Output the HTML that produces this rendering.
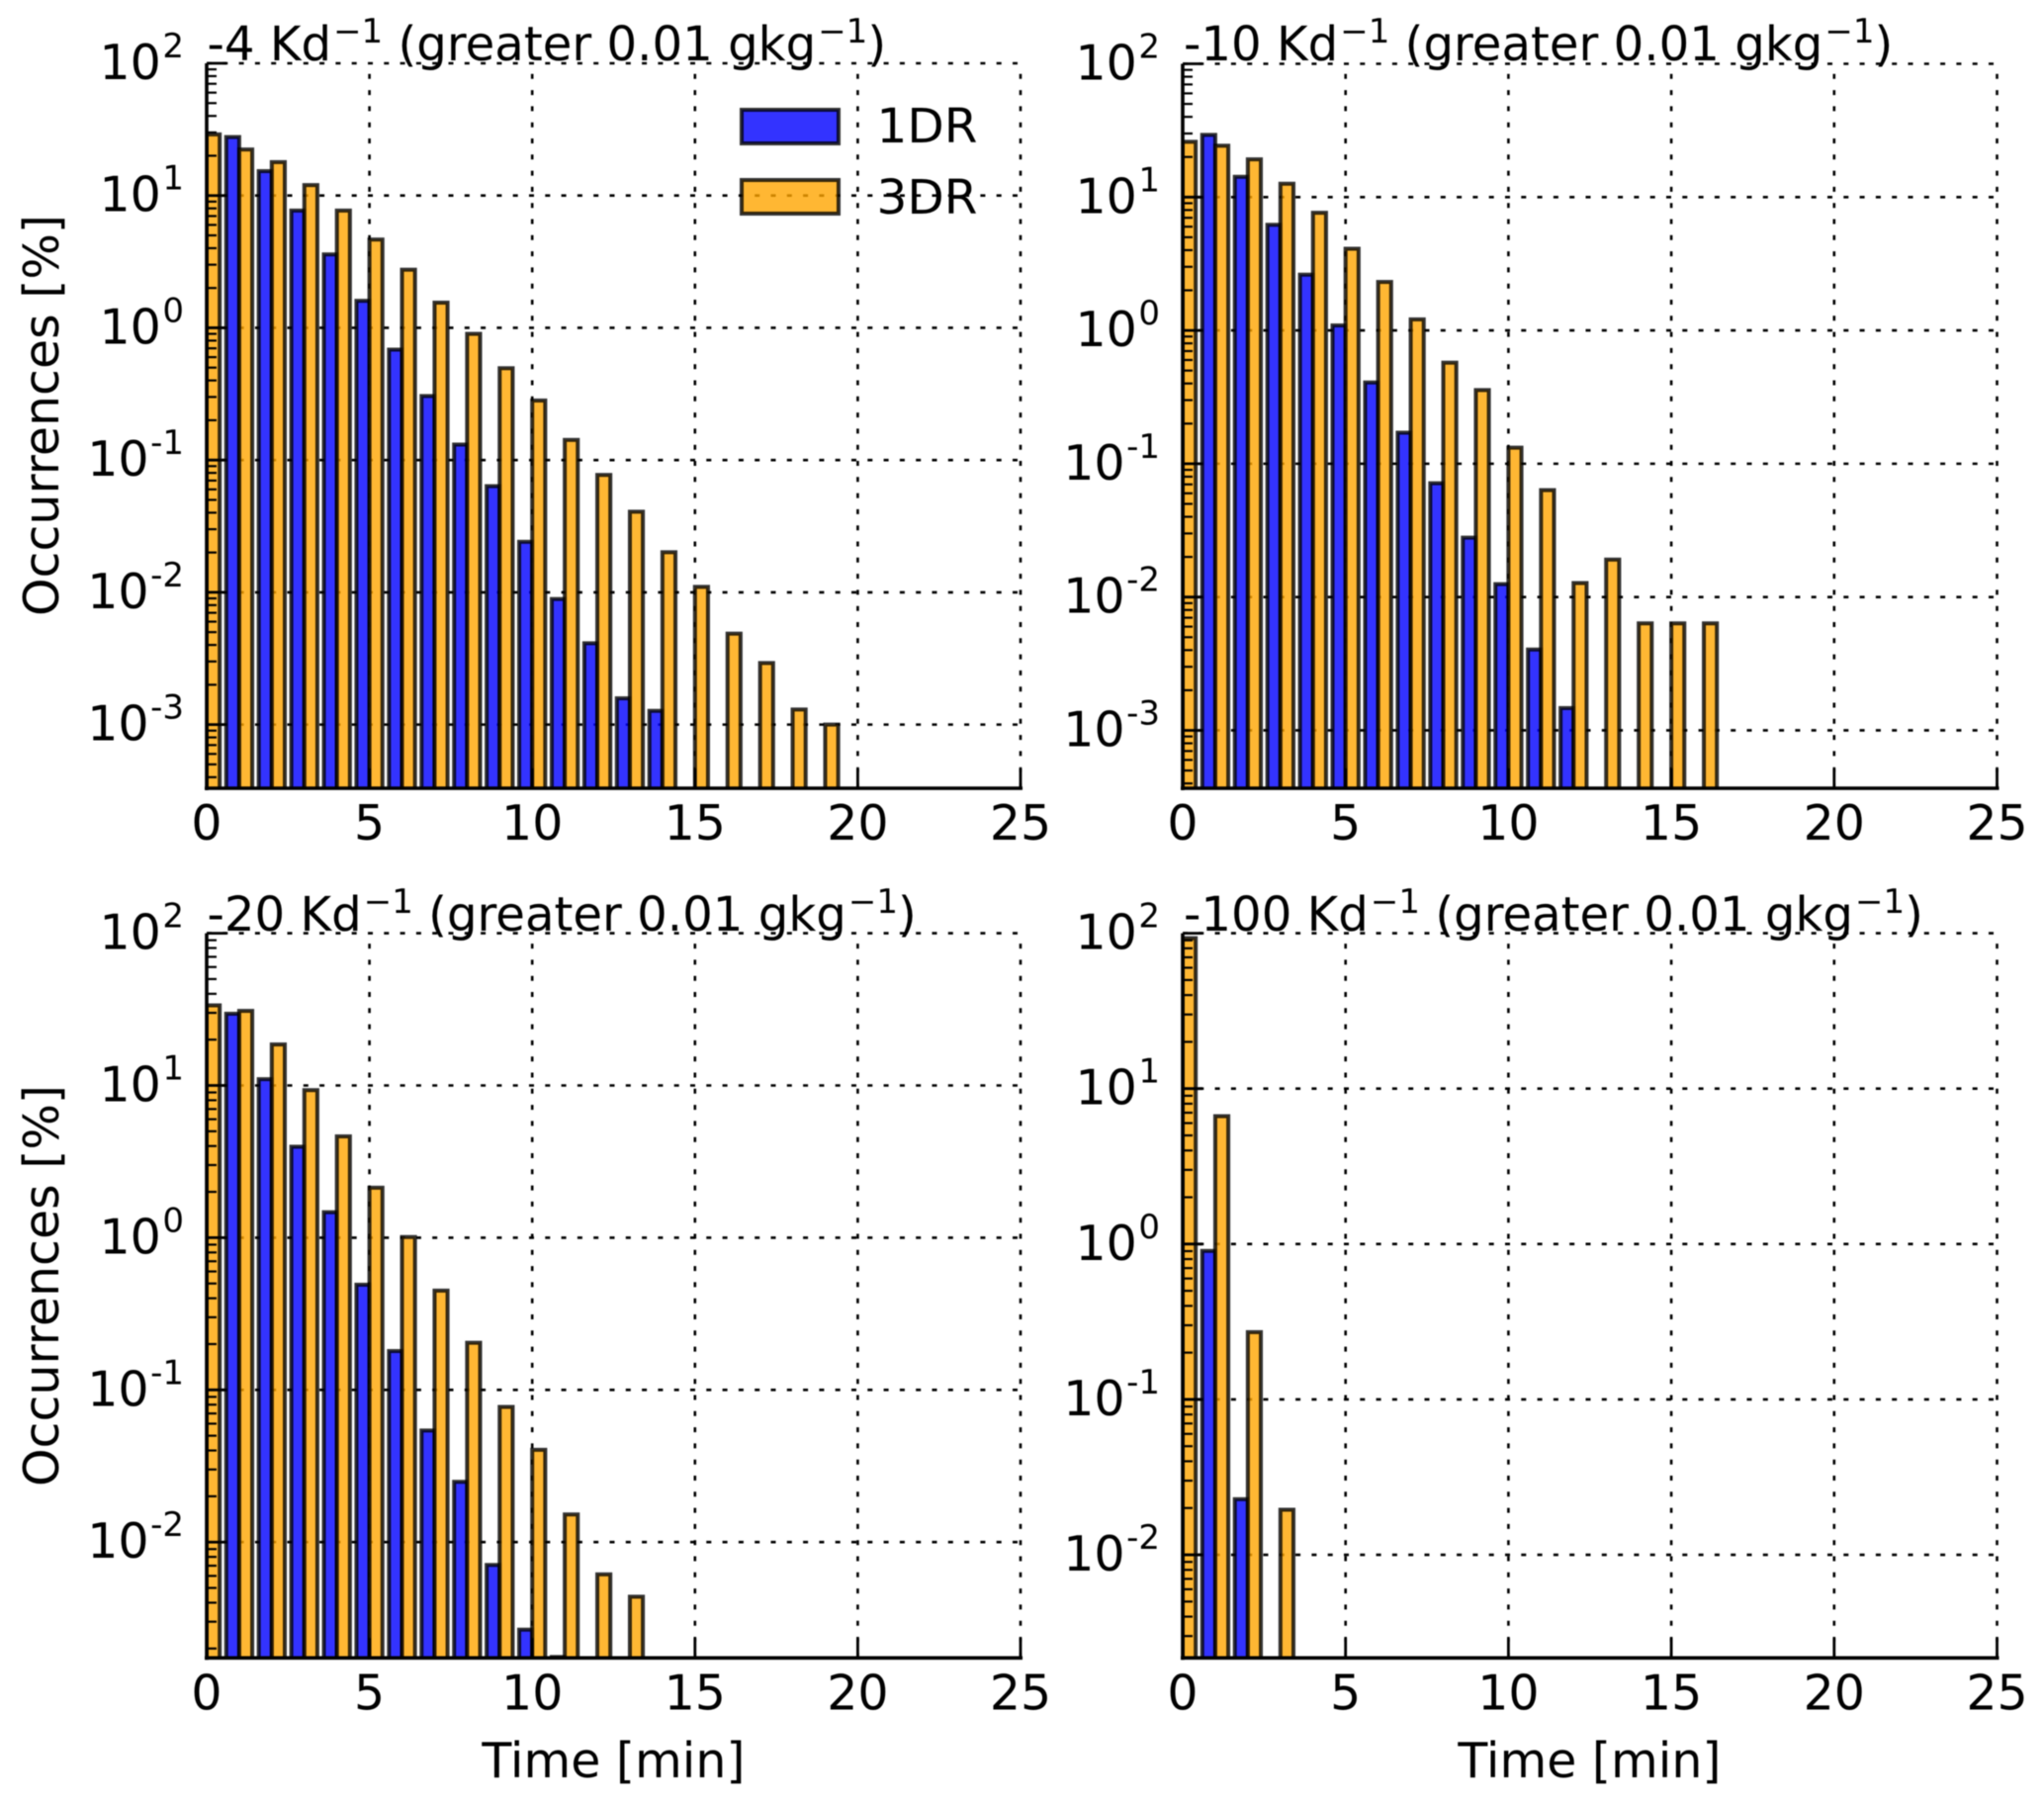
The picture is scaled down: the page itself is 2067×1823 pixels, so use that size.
<!DOCTYPE html>
<html lang="en">
<head>
<meta charset="utf-8">
<title>Occurrences by time</title>
<style>
html,body{margin:0;padding:0;background:#fff;}
svg{display:block;filter:blur(0.6px);}
text{font-family:"DejaVu Sans","Liberation Sans",sans-serif;fill:#000;}
</style>
</head>
<body>
<svg id="figure" xmlns="http://www.w3.org/2000/svg" width="2067" height="1823" viewBox="0 0 2067 1823">
  <rect x="0" y="0" width="2067" height="1823" fill="#fff"/>
  <defs>
    <clipPath id="clip-a"><rect x="209" y="64" width="823" height="733"/></clipPath>
    <clipPath id="clip-b"><rect x="1196" y="64.5" width="823.5" height="732.5"/></clipPath>
    <clipPath id="clip-c"><rect x="209" y="943.6" width="823" height="732.7"/></clipPath>
    <clipPath id="clip-d"><rect x="1196" y="943.6" width="823.5" height="732.7"/></clipPath>
  </defs>

  <g id="panel-a"></g>
  <g id="panel-b"></g>
  <g id="panel-c"></g>
  <g id="panel-d"></g>

  <text x="209.5" y="61" font-size="48.2">-4 Kd<tspan font-size="34" dy="-18" dx="2">−1</tspan><tspan dy="18"> (greater 0.01 gkg</tspan><tspan font-size="34" dy="-18" dx="2">−1</tspan><tspan dy="18">)</tspan></text>
  <text x="1197" y="61" font-size="48.2">-10 Kd<tspan font-size="34" dy="-18" dx="2">−1</tspan><tspan dy="18"> (greater 0.01 gkg</tspan><tspan font-size="34" dy="-18" dx="2">−1</tspan><tspan dy="18">)</tspan></text>
  <text x="209.5" y="941" font-size="48.2">-20 Kd<tspan font-size="34" dy="-18" dx="2">−1</tspan><tspan dy="18"> (greater 0.01 gkg</tspan><tspan font-size="34" dy="-18" dx="2">−1</tspan><tspan dy="18">)</tspan></text>
  <text x="1197" y="941" font-size="48.2">-100 Kd<tspan font-size="34" dy="-18" dx="2">−1</tspan><tspan dy="18"> (greater 0.01 gkg</tspan><tspan font-size="34" dy="-18" dx="2">−1</tspan><tspan dy="18">)</tspan></text>

  <text transform="translate(59,420) rotate(-90)" text-anchor="middle" font-size="49">Occurrences [%]</text>
  <text transform="translate(59,1300) rotate(-90)" text-anchor="middle" font-size="49">Occurrences [%]</text>
  <text x="620.5" y="1797" text-anchor="middle" font-size="49">Time [min]</text>
  <text x="1607.5" y="1797" text-anchor="middle" font-size="49">Time [min]</text>

  <g>
    <g>
      <rect x="750" y="111" width="98" height="34" fill="#0000ff" fill-opacity="0.8" stroke="#000" stroke-opacity="0.8" stroke-width="4"/>
      <text x="886.5" y="144" font-size="48.5">1DR</text>
    </g>
    <g>
      <rect x="750" y="182" width="98" height="34" fill="#ffa500" fill-opacity="0.8" stroke="#000" stroke-opacity="0.8" stroke-width="4"/>
      <text x="886.5" y="216" font-size="48.5">3DR</text>
    </g>
  </g>
</svg>

<script>
// ---- chart data (percent occurrences) ----
const xTickValues = [0, 5, 10, 15, 20, 25];
const xTickLabels = ['0', '5', '10', '15', '20', '25'];

const yExponentsDeep = ['2', '1', '0', '-1', '-2', '-3'];
const yExponentsShallow = ['2', '1', '0', '-1', '-2'];

// series index = time bin; null = no visible bar
const minus4_1DR = [null, 27.7, 15.3, 7.7, 3.59, 1.60, 0.684, 0.305, 0.131, 0.0635, 0.0241, 0.0089, 0.00412, 0.00158, 0.00127];
const minus4_3DR = [29.0, 22.3, 17.9, 12.0, 7.7, 4.65, 2.75, 1.55, 0.90, 0.495, 0.282, 0.142, 0.0772, 0.0407, 0.0201, 0.0110, 0.00487, 0.00292, 0.00130, 0.0010];

const minus10_1DR = [null, 29.3, 14.2, 6.2, 2.62, 1.09, 0.407, 0.171, 0.0714, 0.0279, 0.0125, 0.00404, 0.00147];
const minus10_3DR = [26.0, 24.3, 19.2, 12.6, 7.63, 4.10, 2.31, 1.21, 0.573, 0.357, 0.132, 0.0634, 0.01274, 0.0191, 0.00635, 0.00635, 0.00635];

const minus20_1DR = [null, 29.6, 11.0, 3.96, 1.47, 0.491, 0.180, 0.0541, 0.0249, 0.00708, 0.00266, 0.00176];
const minus20_3DR = [33.6, 30.9, 18.6, 9.32, 4.63, 2.13, 1.01, 0.449, 0.204, 0.0773, 0.0404, 0.0152, 0.00614, 0.00438];

const minus100_1DR = [null, 0.903, 0.0228];
const minus100_3DR = [93, 6.65, 0.271, 0.0195];

const barWidth = 0.4;

// ---- layout ----
const panels = [
  {id:'panel-a', clip:'clip-a', left:209,  right:1032,   top:64,    bottom:797,    yMin:3.3e-4,  exps:yExponentsDeep,    s1:minus4_1DR,   s3:minus4_3DR},
  {id:'panel-b', clip:'clip-b', left:1196, right:2019.5, top:64.5,  bottom:797,    yMin:3.68e-4, exps:yExponentsDeep,    s1:minus10_1DR,  s3:minus10_3DR},
  {id:'panel-c', clip:'clip-c', left:209,  right:1032,   top:943.6, bottom:1676.3, yMin:1.735e-3,exps:yExponentsShallow, s1:minus20_1DR,  s3:minus20_3DR},
  {id:'panel-d', clip:'clip-d', left:1196, right:2019.5, top:943.6, bottom:1676.3, yMin:2.17e-3, exps:yExponentsShallow, s1:minus100_1DR, s3:minus100_3DR}
];

const SVGNS = 'http://www.w3.org/2000/svg';
function make(tag, attrs, parent) {
  const el = document.createElementNS(SVGNS, tag);
  for (const k in attrs) el.setAttribute(k, attrs[k]);
  parent.appendChild(el);
  return el;
}

function drawPanel(p) {
  const root = document.getElementById(p.id);
  const xScale = v => p.left + (v / 25) * (p.right - p.left);
  const logMin = Math.log10(p.yMin);
  const yScale = v => p.top + (2 - Math.log10(v)) / (2 - logMin) * (p.bottom - p.top);

  // grid
  const grid = make('g', {fill:'none', stroke:'#000', 'stroke-width':2.6, 'stroke-dasharray':'5 11.3'}, root);
  
  
  xTickValues.forEach(function (t) {
    if (t === 0) return;
    const l = make('line', {x1:xScale(t), x2:xScale(t), y1:p.bottom, y2:p.top}, grid);
    
    
  });
  p.exps.forEach(function (e) {
    const y = yScale(Math.pow(10, Number(e)));
    const l = make('line', {x1:p.left, x2:p.right, y1:y, y2:y}, grid);
    
    
  });

  // bars
  const bars = make('g', {'clip-path':'url(#' + p.clip + ')'}, root);
  
  
  p.s1.forEach(function (v, i) {
    if (v === null) return;
    const y = yScale(v);
    const r = make('rect', {x:xScale(i - barWidth), y:y, width:xScale(barWidth) - xScale(0), height:p.bottom + 4 - y,
      fill:'#0000ff', 'fill-opacity':0.8, stroke:'#000', 'stroke-opacity':0.8, 'stroke-width':4}, bars);
    
    
  });
  p.s3.forEach(function (v, i) {
    if (v === null) return;
    const y = yScale(v);
    const r = make('rect', {x:xScale(i), y:y, width:xScale(barWidth) - xScale(0), height:p.bottom + 4 - y,
      fill:'#ffa500', 'fill-opacity':0.8, stroke:'#000', 'stroke-opacity':0.8, 'stroke-width':4}, bars);
    
    
  });

  // y ticks
  const yAxis = make('g', {stroke:'#000'}, root);
  
  
  const lowest = Number(p.exps[p.exps.length - 1]) - 1;
  for (let d = lowest; d < 2; d++) {
    for (let m = 2; m <= 9; m++) {
      const v = m * Math.pow(10, d);
      if (v < p.yMin) continue;
      const y = yScale(v);
      const t = make('line', {x1:p.left, x2:p.left + 10, y1:y, y2:y, 'stroke-width':2.2}, yAxis);
      
      
    }
  }
  p.exps.forEach(function (e) {
    const y = yScale(Math.pow(10, Number(e)));
    const t = make('line', {x1:p.left, x2:p.left + 20, y1:y, y2:y, 'stroke-width':2.8}, yAxis);
    
    
    const label = make('text', {x:p.left - 23, y:y + 16, 'text-anchor':'end', 'font-size':49, stroke:'none'}, root);
    
    
    label.appendChild(document.createTextNode('10'));
    const sup = make('tspan', {'font-size':34, dy:-22, dx:1.5}, label);
    sup.textContent = e;
  });

  // x ticks
  const xAxis = make('g', {stroke:'#000'}, root);
  
  
  xTickValues.forEach(function (t, i) {
    const x = xScale(t);
    const m = make('line', {x1:x, x2:x, y1:p.bottom, y2:p.bottom - 20, 'stroke-width':2.8}, xAxis);
    
    
    const label = make('text', {x:x, y:p.bottom + 52, 'text-anchor':'middle', 'font-size':49, stroke:'none'}, root);
    
    
    label.textContent = xTickLabels[i];
  });

  // spines
  const left = make('line', {x1:p.left, x2:p.left, y1:p.top, y2:p.bottom + 2, stroke:'#000', 'stroke-width':3.6}, root);
  
  
  const bottom = make('line', {x1:p.left - 2, x2:p.right + 2, y1:p.bottom, y2:p.bottom, stroke:'#000', 'stroke-width':3.6}, root);
  
  
}

panels.forEach(drawPanel);
</script>
</body>
</html>
